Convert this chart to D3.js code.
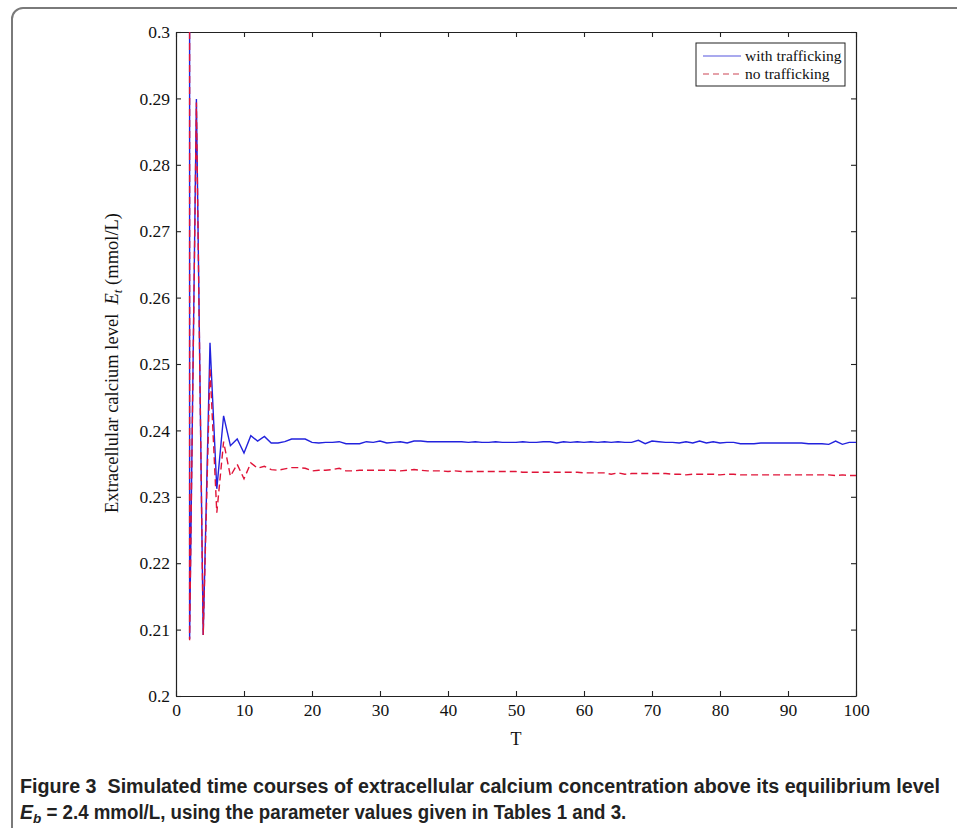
<!DOCTYPE html>
<html>
<head>
<meta charset="utf-8">
<script src="https://cdn.jsdelivr.net/npm/d3@7"></script>
<style>
  body { margin: 0; background: #fff; }
  svg { display: block; }
  .axis text { font-family: "Liberation Serif", "Times New Roman", serif; font-size: 17.5px; fill: #111; }
  .axis path, .axis line { stroke: #222; }
  .caption { font-family: "Liberation Sans Narrow", "Liberation Sans", "Roboto", sans-serif; font-stretch: condensed; font-weight: bold; fill: #222; }
</style>
</head>
<body>
<div id="chart"></div>
<script>
// --- DATOS ---
// time (T) values; T=2 appears twice because the curve drops vertically there
const timeSteps = [2, 2, 3, 4, 5, 6, 7, 8, 9, 10,
  11, 12, 13, 14, 15, 16, 17, 18, 19, 20,
  21, 22, 23, 24, 25, 26, 27, 28, 29, 30,
  31, 32, 33, 34, 35, 36, 37, 38, 39, 40,
  41, 42, 43, 44, 45, 46, 47, 48, 49, 50,
  51, 52, 53, 54, 55, 56, 57, 58, 59, 60,
  61, 62, 63, 64, 65, 66, 67, 68, 69, 70,
  71, 72, 73, 74, 75, 76, 77, 78, 79, 80,
  81, 82, 83, 84, 85, 86, 87, 88, 89, 90,
  91, 92, 93, 94, 95, 96, 97, 98, 99, 100];

const withTrafficking = [0.300, 0.2086, 0.2899, 0.2092, 0.2532, 0.2312, 0.2422, 0.2377, 0.2387, 0.2366,
  0.2392, 0.2384, 0.2391, 0.2381, 0.2381, 0.2383, 0.2387, 0.2387, 0.2387, 0.2382,
  0.2381, 0.2382, 0.2382, 0.2383, 0.2380, 0.2380, 0.2380, 0.2383, 0.2382, 0.2384,
  0.2381, 0.2382, 0.2383, 0.2381, 0.2384, 0.2384, 0.2383, 0.2383, 0.2383, 0.2383,
  0.2383, 0.2383, 0.2382, 0.2383, 0.2382, 0.2382, 0.2383, 0.2382, 0.2382, 0.2382,
  0.2383, 0.2382, 0.2382, 0.2383, 0.2383, 0.2381, 0.2383, 0.2382, 0.2383, 0.2382,
  0.2383, 0.2382, 0.2383, 0.2382, 0.2383, 0.2382, 0.2382, 0.2385, 0.2380, 0.2384,
  0.2383, 0.2382, 0.2382, 0.2381, 0.2383, 0.2381, 0.2384, 0.2381, 0.2383, 0.2381,
  0.2382, 0.2382, 0.2380, 0.2380, 0.2380, 0.2381, 0.2381, 0.2381, 0.2381, 0.2381,
  0.2381, 0.2381, 0.2380, 0.2380, 0.2380, 0.2379, 0.2384, 0.2379, 0.2382, 0.2382];

const noTrafficking = [0.300, 0.2084, 0.2894, 0.2092, 0.2494, 0.2276, 0.2383, 0.2331, 0.2349, 0.2327,
  0.2351, 0.2343, 0.2346, 0.2341, 0.2340, 0.2342, 0.2344, 0.2344, 0.2343, 0.2339,
  0.2340, 0.2340, 0.2341, 0.2343, 0.2339, 0.2339, 0.2340, 0.2340, 0.2340, 0.2340,
  0.2340, 0.2340, 0.2339, 0.2340, 0.2341, 0.2340, 0.2339, 0.2339, 0.2339, 0.2338,
  0.2339, 0.2338, 0.2338, 0.2338, 0.2338, 0.2338, 0.2338, 0.2338, 0.2338, 0.2338,
  0.2337, 0.2337, 0.2337, 0.2337, 0.2337, 0.2337, 0.2337, 0.2337, 0.2337, 0.2336,
  0.2336, 0.2336, 0.2336, 0.2334, 0.2336, 0.2334, 0.2335, 0.2335, 0.2335, 0.2335,
  0.2335, 0.2335, 0.2334, 0.2334, 0.2333, 0.2334, 0.2334, 0.2334, 0.2334, 0.2333,
  0.2334, 0.2334, 0.2333, 0.2333, 0.2333, 0.2333, 0.2333, 0.2333, 0.2333, 0.2333,
  0.2333, 0.2333, 0.2333, 0.2333, 0.2333, 0.2333, 0.2332, 0.2333, 0.2332, 0.2332];

const xTicks = [0, 10, 20, 30, 40, 50, 60, 70, 80, 90, 100];
const yTicks = [0.2, 0.21, 0.22, 0.23, 0.24, 0.25, 0.26, 0.27, 0.28, 0.29, 0.3];

const seriesNames = ["with trafficking", "no trafficking"];

// --- CONFIGURACIÓN ---
const W = 957, H = 828;
const margin = { top: 32, left: 176, right: 101, bottom: 132 };
const width = W - margin.left - margin.right;
const height = H - margin.top - margin.bottom;

const svg = d3.select("#chart").append("svg").attr("width", W).attr("height", H);

// outer figure frame (runs off the page right and bottom)
svg.append("rect")
  .attr("x", 12).attr("y", 8).attr("width", 1100).attr("height", 1000)
  .attr("rx", 11).attr("fill", "none").attr("stroke", "#7a7a7a").attr("stroke-width", 2);

const g = svg.append("g").attr("transform", `translate(${margin.left},${margin.top})`);

// --- ESCALAS ---
const x = d3.scaleLinear().domain([0, 100]).range([0, width]);
const y = d3.scaleLinear().domain([0.2, 0.3]).range([height, 0]);

const fmt = d => String(+d.toFixed(2));

g.append("g").attr("class", "axis").attr("transform", `translate(0,${height})`)
  .call(d3.axisBottom(x).tickValues(xTicks).tickFormat(d3.format("d")).tickSizeInner(-5).tickSizeOuter(0).tickPadding(8));
g.append("g").attr("class", "axis")
  .call(d3.axisTop(x).tickValues(xTicks).tickFormat("").tickSizeInner(-5).tickSizeOuter(0));
g.append("g").attr("class", "axis")
  .call(d3.axisLeft(y).tickValues(yTicks).tickFormat(fmt).tickSizeInner(-5).tickSizeOuter(0).tickPadding(6));
g.append("g").attr("class", "axis").attr("transform", `translate(${width},0)`)
  .call(d3.axisRight(y).tickValues(yTicks).tickFormat("").tickSizeInner(-5).tickSizeOuter(0));

g.selectAll(".axis .domain").attr("stroke", "#222").attr("stroke-width", 1.2);
g.selectAll(".axis line").attr("stroke-width", 1.1);

// --- LÍNEAS ---
g.append("defs").append("clipPath").attr("id", "clip")
  .append("rect").attr("width", width).attr("height", height);

const line = d3.line().x(d => x(d[0])).y(d => y(d[1]));
const blueData = timeSteps.map((t, i) => [t, withTrafficking[i]]);
const redData = timeSteps.map((t, i) => [t, noTrafficking[i]]);

g.append("path").datum(blueData).attr("clip-path", "url(#clip)")
  .attr("fill", "none").attr("stroke", "#2222dd").attr("stroke-width", 1.4)
  .attr("d", line);
g.append("path").datum(redData).attr("clip-path", "url(#clip)")
  .attr("fill", "none").attr("stroke", "#e01438").attr("stroke-width", 1.4)
  .attr("stroke-dasharray", "7,4").attr("d", line);

// --- LEYENDA ---
const leg = g.append("g").attr("transform", `translate(${696 - margin.left},${43 - margin.top})`);
leg.append("rect").attr("width", 149).attr("height", 43)
  .attr("fill", "#fff").attr("stroke", "#222").attr("stroke-width", 1);
const legStyles = [{ c: "#5555dd", dash: null }, { c: "#cc4455", dash: "6,4" }];
legStyles.forEach((s, i) => {
  const yy = 13 + i * 18;
  leg.append("line").attr("x1", 7).attr("x2", 45).attr("y1", yy).attr("y2", yy)
    .attr("stroke", s.c).attr("stroke-width", 1.1).attr("stroke-dasharray", s.dash);
  leg.append("text").attr("x", 49).attr("y", yy + 4.5)
    .attr("font-family", "Liberation Serif, serif").attr("font-size", 15.5).attr("fill", "#111")
    .text(seriesNames[i]);
});

// --- ETIQUETAS ---
svg.append("text").attr("x", margin.left + width / 2).attr("y", 745)
  .attr("text-anchor", "middle").attr("font-family", "Liberation Serif, serif")
  .attr("font-size", 18).attr("fill", "#111").text("T");

const yl = svg.append("text")
  .attr("transform", `translate(118,363) rotate(-90)`)
  .attr("text-anchor", "middle").attr("font-family", "Liberation Serif, serif")
  .attr("font-size", 18.5).attr("fill", "#111").style("white-space", "pre");
yl.append("tspan").text("Extracellular calcium level  ");
yl.append("tspan").attr("font-style", "italic").text("E");
yl.append("tspan").attr("font-style", "italic").attr("font-size", 13).attr("dy", 4).text("t");
yl.append("tspan").attr("dy", -4).text(" (mmol/L)");

// --- PIE DE FIGURA ---
svg.append("text").attr("class", "caption").attr("x", 20).attr("y", 793)
  .attr("font-size", 19.5).style("white-space", "pre")
  .attr("textLength", 920).attr("lengthAdjust", "spacingAndGlyphs")
  .text("Figure 3  Simulated time courses of extracellular calcium concentration above its equilibrium level");
const cap2 = svg.append("text").attr("class", "caption").attr("x", 20).attr("y", 819)
  .attr("font-size", 19.5);
cap2.append("tspan").attr("font-style", "italic").text("E");
cap2.append("tspan").attr("font-style", "italic").attr("font-size", 13.5).attr("dy", 4).text("b");
cap2.append("tspan").attr("dy", -4)
  .attr("textLength", 585).attr("lengthAdjust", "spacingAndGlyphs")
  .text(" = 2.4 mmol/L, using the parameter values given in Tables 1 and 3.");
</script>
</body>
</html>
